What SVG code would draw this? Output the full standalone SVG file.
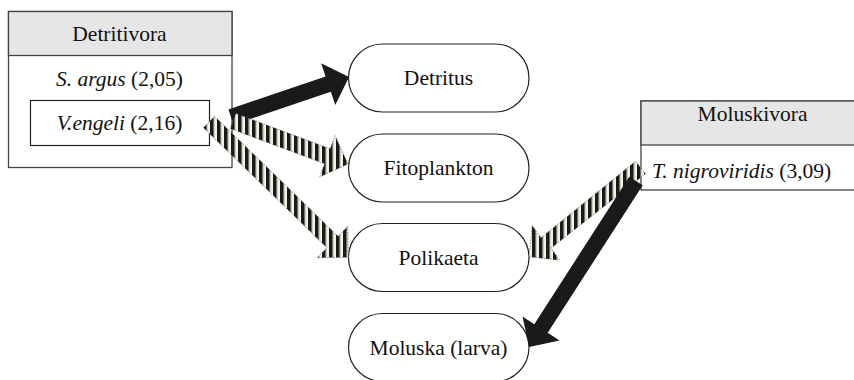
<svg xmlns="http://www.w3.org/2000/svg" width="854" height="380" viewBox="0 0 854 380">
  <defs>
    <!-- vertical black/cream stripes for the partial-feeding arrows -->
    <pattern id="stripes" patternUnits="userSpaceOnUse" x="0" y="0" width="7" height="7">
      <rect width="7" height="7" fill="#f2f2e2"/>
      <rect x="0" width="3.6" height="7" fill="#1a1a1a"/>
      <rect x="3.6" width="0.7" height="7" fill="#777"/>
    </pattern>
  </defs>
  <style>
    text { font-family: 'Liberation Serif', 'Times New Roman', Tinos, 'DejaVu Serif', serif; font-size: 21.5px; fill: #111; }
    .mid { text-anchor: middle; }
    .box { fill: #fff; stroke: #444; stroke-width: 1.3; }
    .head { fill: #e6e6e6; stroke: #444; stroke-width: 1.3; }
    .inner { fill: #fff; stroke: #222; stroke-width: 1.2; }
    .pill { fill: #fff; stroke: #222; stroke-width: 1.2; }
    .solid { fill: #1a1a1a; stroke: none; }
    .striped { fill: url(#stripes); stroke: #444; stroke-width: 0.6; stroke-dasharray: 1.5 1.5; }
    .it { font-style: italic; }
  </style>

  <rect width="854" height="380" fill="#fff"/>

  <g font-family="Liberation Serif, Times New Roman, serif">
  <!-- feeding-guild box: Detritivora -->
  <g id="detritivora">
    <rect class="box" x="8.5" y="11.5" width="223.5" height="156"/>
    <rect class="head" x="8.5" y="11.5" width="223.5" height="44"/>
    <text class="mid" x="119.5" y="41">Detritivora</text>
    <text class="mid" x="119.5" y="86"><tspan class="it">S. argus</tspan> (2,05)</text>
  </g>
  <g id="vengeli">
    <rect class="inner" x="30.5" y="100.5" width="179" height="45"/>
    <text class="mid" x="119.5" y="129.5"><tspan class="it">V.engeli</tspan> (2,16)</text>
  </g>

  <!-- feeding-guild box: Moluskivora -->
  <g id="moluskivora">
    <rect class="box" x="641" y="101" width="230" height="89"/>
    <rect class="head" x="641" y="101" width="230" height="44"/>
    <text class="mid" x="752.5" y="121">Moluskivora</text>
    <text x="652" y="178"><tspan class="it">T. nigroviridis</tspan> (3,09)</text>
  </g>

  <!-- food items -->
  <g id="detritus">
    <rect class="pill" x="348.5" y="44" width="180.5" height="68" rx="34" ry="34"/>
    <text class="mid" x="438.5" y="85">Detritus</text>
  </g>
  <g id="fitoplankton">
    <rect class="pill" x="348.5" y="134" width="180.5" height="68" rx="34" ry="34"/>
    <text class="mid" x="438.5" y="175">Fitoplankton</text>
  </g>
  <g id="polikaeta">
    <rect class="pill" x="348.5" y="223.5" width="180.5" height="68" rx="34" ry="34"/>
    <text class="mid" x="438.5" y="264.5">Polikaeta</text>
  </g>
  <g id="moluska">
    <rect class="pill" x="348.5" y="313.5" width="180.5" height="68" rx="34" ry="34"/>
    <text class="mid" x="438.5" y="355">Moluska (larva)</text>
  </g>
  </g>

  <!-- feeding links: solid = main food, striped = secondary food -->
  <g id="connectors">
    <polygon class="solid" points="228.4,109.4 325.6,76.5 321.1,63.3 349,77 335.3,104.9 330.8,91.7 233.6,124.6"/>
    <polygon class="striped" points="235.8,113.5 330.2,148.8 335.1,135.7 348,164 319.7,176.9 324.6,163.8 230.2,128.5"/>
    <polygon class="striped" points="214.6,116.3 338.1,236.3 347.8,226.2 348.3,257.3 317.2,257.8 326.9,247.7 203.4,127.7"/>
    <polygon class="striped" points="635.5,161.3 541,237.8 532.3,225.8 528.8,256.7 559.7,260.2 551,248.2 645.5,173.7"/>
    <polygon class="solid" points="629.3,176.7 534.3,324.2 522.5,316.6 529.1,347 559.5,340.4 547.7,332.8 642.7,185.3"/>
  </g>
</svg>
